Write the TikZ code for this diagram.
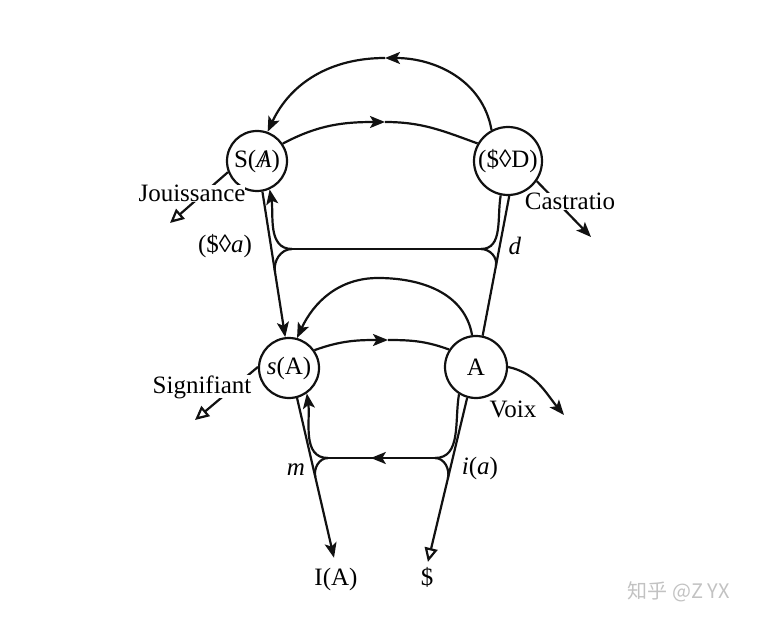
\documentclass[tikz,border=0pt]{standalone}
\usepackage{fontspec}
\setmainfont{Liberation Serif}
\newfontfamily\cjkfont{Noto Sans CJK SC}
\usepackage{tikz}
\usetikzlibrary{arrows.meta,positioning,calc}
\definecolor{ink}{HTML}{111111}
\definecolor{watermark}{HTML}{C2C2C2}
\newcommand{\barredA}{{\ooalign{\hfil\textit{A}\hfil\cr\hfil/\hfil}}}

\begin{document}
\begin{tikzpicture}[x=1pt, y=1pt, line width=2.2pt, draw=ink,
  >={Stealth[length=15pt,width=12pt,inset=3.5pt]},
  spot/.style={circle, draw=ink, inner sep=0pt, minimum size=#1, font=\fontsize{25}{25}\selectfont},
  tag/.style={inner sep=0pt, anchor=base, font=\fontsize{25}{25}\selectfont},
  tail/.style={-{Triangle[open,length=14pt,width=13pt]}}]
  \useasboundingbox (0,0) rectangle (757,622);
  \node[spot=60pt] (SA) at (257,461) {S(\barredA)};
  \node[spot=68pt] (SD) at (508,461) {(\$◊D)};
  \node[spot=60pt] (sA) at (289,254) {\textit{s}(A)};
  \node[spot=62pt] (A) at (476,255) {A};
  \node[tag] (IA) at (336,37) {I(A)};
  \node[tag] (dollar) at (427,37) {\$};
  \coordinate (topmid) at (385,564);
  \coordinate (upmid) at (385,500);
  \coordinate (lowtop) at (378,344);
  \coordinate (lowmid) at (388,282);
  \coordinate (jUL) at (292,373);
  \coordinate (jUR) at (481,373);
  \coordinate (jLL) at (328,164);
  \coordinate (jLR) at (435,164);
  \coordinate (joutip) at (170,399);
  \coordinate (sigtip) at (195,202);
  \coordinate (castip) at (591,385);
  \coordinate (voixtip) at (564,207);

  \draw[->] (SD.118) to[out=100,in=0] (topmid);
  \draw[->] (topmid) to[out=180,in=65] (SA.70);
  \draw[->] (SA.34) to[out=28,in=180] (upmid);
  \draw (upmid) to[out=0,in=160] (SD.150);
  \draw[->] (A.97) to[out=100,in=0] (lowtop) to[out=180,in=65] (sA.75);
  \draw[->] (sA.35) to[out=20,in=180] (lowmid);
  \draw (lowmid) to[out=0,in=160] (A.147);

  \draw[->] (SA.-80) -- (sA.97);
  \draw[->, shorten >=9pt] (sA.-75) -- (IA.north);
  \draw[tail, shorten >=4pt] (A.-106) -- (dollar.north);
  \draw (A.78) -- (SD.-88);

  \draw (jUL) -- (jUR);
  \draw[->] (jUL) to[out=180,in=-80] (SA.-66);
  \draw (jUL) to[out=180,in=99] ($(SA.-80)!0.55!(sA.97)$);
  \draw (jUR) to[out=0,in=-100] (SD.-102);
  \draw (jUR) to[out=0,in=79] ($(A.78)!0.5!(SD.-88)$);

  \draw (jLR) -- (jLL);
  \draw[->] (jLR) -- ($(jLR)!0.6!(jLL)$);
  \draw[->] (jLL) to[out=180,in=-82] (sA.-55);
  \draw (jLL) to[out=180,in=103] ($(sA.-75)!0.47!(IA.north)$);
  \draw (jLR) to[out=0,in=-100] (A.-122);
  \draw (jLR) to[out=0,in=76] ($(A.-106)!0.48!(dollar.north)$);

  \draw[tail] (SA.-159) -- (joutip);
  \draw[tail] (sA.178) -- (sigtip);
  \draw[->] (SD.-35) -- (castip);
  \draw[->] (A.0) to[out=-12,in=130] (voixtip);

  \node[tag, fill=white] (jou) at (192,420) {Jouissance};
  \node[tag, fill=white] (cas) at (570,412) {Castratio};
  \node[tag, fill=white] (sig) at (202,229) {Signifiant};
  \node[tag] (voix) at (513,205) {Voix};
  \node[tag] (sdiama) at (225,369) {(\$◊\textit{a})};
  \node[tag] (dlab) at (515,367) {\textit{d}};
  \node[tag] (mlab) at (296,147) {\textit{m}};
  \node[tag] (ialab) at (480,148) {\textit{i}(\textit{a})};
  \node[tag, font=\cjkfont\fontsize{20}{20}\selectfont, text=watermark] (zhihu) at (679,24) {知乎 @Z YX};
\end{tikzpicture}
\end{document}
